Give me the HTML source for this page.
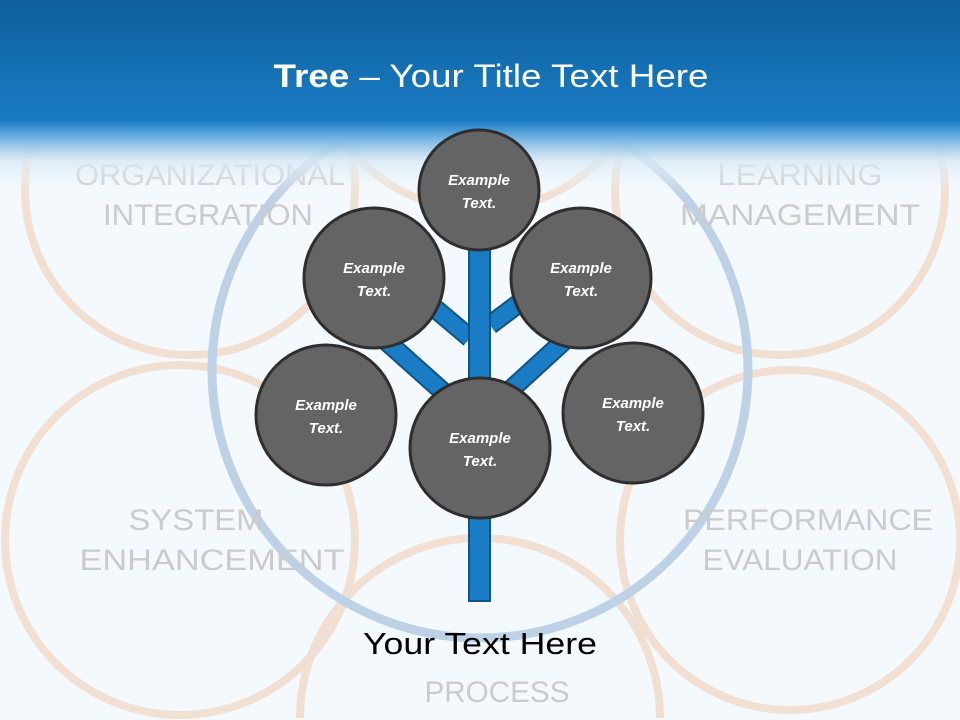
<!DOCTYPE html>
<html><head><meta charset="utf-8"><style>
html,body{margin:0;padding:0;width:960px;height:720px;overflow:hidden}
body{background:#f4f9fd;font-family:"Liberation Sans",sans-serif;position:relative}
svg{display:block}
</style></head><body>
<svg width="960" height="720" style="position:absolute;left:0;top:0">
<defs>
<linearGradient id="hd" x1="0" y1="0" x2="0" y2="1">
<stop offset="0" stop-color="#0e5f9c"/><stop offset="0.62" stop-color="#1a7cc4"/><stop offset="0.7" stop-color="#6aaee0"/><stop offset="0.82" stop-color="#d6e8f5" stop-opacity="0.85"/><stop offset="1" stop-color="#f4f9fd" stop-opacity="0"/>
</linearGradient>
</defs>
<g fill="none" stroke="#f1dccb" stroke-width="8" opacity="0.85">
<circle cx="190" cy="190" r="165"/>
<circle cx="780" cy="190" r="165"/>
<circle cx="180" cy="540" r="175"/>
<circle cx="790" cy="540" r="170"/>
<path d="M300,718 A180,180 0 0 1 660,718"/>
<path d="M310,40 A170,170 0 0 0 650,40"/>
</g>
<circle cx="480" cy="370" r="268" fill="none" stroke="#bdd2e6" stroke-width="9"/>
<g font-family="Liberation Sans" font-size="30" fill="#cbcbcb" text-anchor="middle">
<text x="210" y="185" textLength="270" lengthAdjust="spacingAndGlyphs">ORGANIZATIONAL</text><text x="208" y="225" textLength="210" lengthAdjust="spacingAndGlyphs">INTEGRATION</text>
<text x="800" y="185" textLength="165" lengthAdjust="spacingAndGlyphs">LEARNING</text><text x="800" y="225" textLength="240" lengthAdjust="spacingAndGlyphs">MANAGEMENT</text>
<text x="196" y="530" textLength="135" lengthAdjust="spacingAndGlyphs">SYSTEM</text><text x="212" y="570" textLength="265" lengthAdjust="spacingAndGlyphs">ENHANCEMENT</text>
<text x="808" y="530" textLength="250" lengthAdjust="spacingAndGlyphs">PERFORMANCE</text><text x="800" y="570" textLength="195" lengthAdjust="spacingAndGlyphs">EVALUATION</text>
<text x="497" y="702" textLength="145" lengthAdjust="spacingAndGlyphs">PROCESS</text>
</g>
<rect x="0" y="0" width="960" height="195" fill="url(#hd)"/>
<g stroke="#0f5486" stroke-width="20">
<line x1="470" y1="338" x2="425" y2="300"/><line x1="490" y1="325" x2="530" y2="295"/>
<line x1="450" y1="398" x2="385" y2="340"/><line x1="505" y1="395" x2="565" y2="340"/>
</g>
<g stroke="#1a7cc4" stroke-width="16">
<line x1="470" y1="338" x2="425" y2="300"/><line x1="490" y1="325" x2="530" y2="295"/>
<line x1="450" y1="398" x2="385" y2="340"/><line x1="505" y1="395" x2="565" y2="340"/>
</g>
<rect x="469" y="235" width="21" height="366" fill="#1a7cc4" stroke="#0f5486" stroke-width="2"/>
<g fill="#646464" stroke="#2e2e2e" stroke-width="3">
<circle cx="479" cy="190" r="60"/>
<circle cx="374" cy="278" r="70"/>
<circle cx="581" cy="278" r="70"/>
<circle cx="326" cy="415" r="70"/>
<circle cx="633" cy="413" r="70"/>
<circle cx="480" cy="448" r="70"/>
</g>
<g font-family="Liberation Sans" font-size="15" font-weight="bold" font-style="italic" fill="#fff" text-anchor="middle">
<text x="479" y="185">Example</text><text x="479" y="208">Text.</text>
<text x="374" y="273">Example</text><text x="374" y="296">Text.</text>
<text x="581" y="273">Example</text><text x="581" y="296">Text.</text>
<text x="326" y="410">Example</text><text x="326" y="433">Text.</text>
<text x="633" y="408">Example</text><text x="633" y="431">Text.</text>
<text x="480" y="443">Example</text><text x="480" y="466">Text.</text>
</g>
<text x="491" y="87" text-anchor="middle" font-family="Liberation Sans" font-size="32" fill="#fff" textLength="435" lengthAdjust="spacingAndGlyphs"><tspan font-weight="bold">Tree</tspan> – Your Title Text Here</text>
<text x="480" y="654" text-anchor="middle" font-family="Liberation Sans" font-size="31" fill="#000" textLength="234" lengthAdjust="spacingAndGlyphs">Your Text Here</text>
</svg>
</body></html>
